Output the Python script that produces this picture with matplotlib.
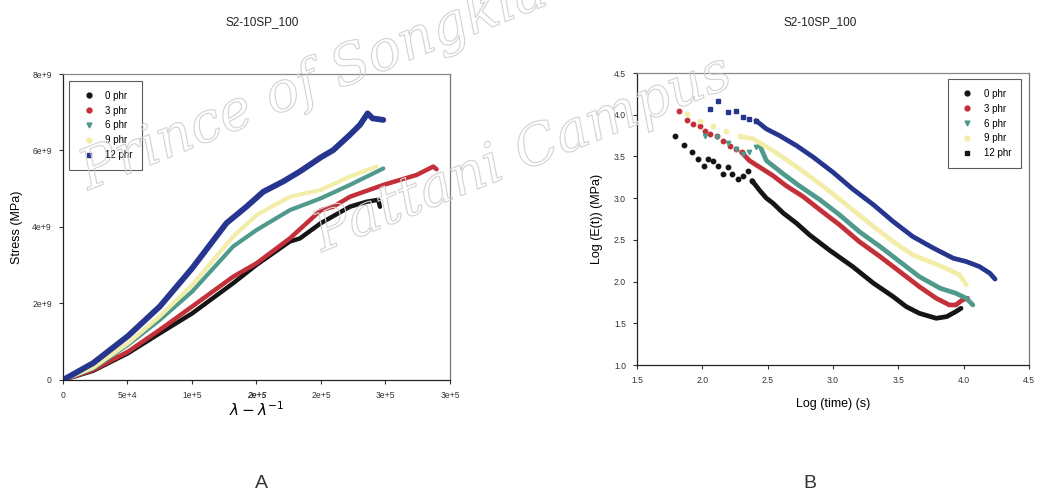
import matplotlib
matplotlib.use("Agg")
import matplotlib.pyplot as plt
from matplotlib.lines import Line2D
import matplotlib.patheffects as pe

plt.rcParams['font.family'] = ['Liberation Sans', 'DejaVu Sans']

labels = ['0 phr', '3 phr', '6 phr', '9 phr', '12 phr']
colors = ['#151515', '#c4303a', '#4f9a8c', '#f2eda8', '#26358e']
markers = ['o', 'o', 'v', 'o', 's']

# --- stress vs lambda - lambda^-1 ---
strain_0 = [0, 23300, 50400, 75000, 100100, 131900, 150000, 175800, 183600, 199900, 222400, 235300, 244400, 245700]
stress_0 = [0, 0.24e9, 0.70e9, 1.22e9, 1.74e9, 2.53e9, 3.01e9, 3.62e9, 3.70e9, 4.10e9, 4.53e9, 4.66e9, 4.71e9, 4.53e9]
strain_3 = [0, 23300, 50400, 75000, 100100, 131900, 150000, 175800, 199900, 209500, 222400, 248300, 274100, 287000, 289600]
stress_3 = [0, 0.26e9, 0.74e9, 1.31e9, 1.92e9, 2.70e9, 3.05e9, 3.70e9, 4.44e9, 4.53e9, 4.79e9, 5.10e9, 5.36e9, 5.58e9, 5.51e9]
strain_6 = [0, 23300, 50400, 75000, 100100, 131900, 150000, 175800, 199900, 222400, 248300]
stress_6 = [0, 0.30e9, 0.92e9, 1.57e9, 2.31e9, 3.49e9, 3.92e9, 4.44e9, 4.75e9, 5.10e9, 5.53e9]
strain_9 = [0, 23300, 50400, 75000, 100100, 131900, 150000, 175800, 199900, 222400, 243100]
stress_9 = [0, 0.32e9, 0.96e9, 1.66e9, 2.48e9, 3.75e9, 4.31e9, 4.79e9, 4.97e9, 5.32e9, 5.58e9]
strain_12 = [0, 23300, 50400, 75000, 100100, 126700, 142200, 155200, 170700, 183600, 199900, 209500, 222400, 230200, 236100, 240000, 248300]
stress_12 = [0, 0.44e9, 1.15e9, 1.92e9, 2.92e9, 4.10e9, 4.53e9, 4.92e9, 5.19e9, 5.45e9, 5.82e9, 6.01e9, 6.41e9, 6.67e9, 6.97e9, 6.84e9, 6.80e9]

strain_ticks = [0, 50000, 100000, 150000, 200000, 250000, 300000]
strain_ticklabels = ['0', '5e+4', '1e+5', '2e+5', '2e+5', '3e+5', '3e+5']
stress_ticks = [0, 2e9, 4e9, 6e9, 8e9]
stress_ticklabels = ['0', '2e+9', '4e+9', '6e+9', '8e+9']

# --- log E(t) vs log time: scattered start, then dense run ---
logt_0_pts = [1.79, 1.86, 1.92, 1.97, 2.01, 2.04, 2.08, 2.12, 2.16, 2.20, 2.23, 2.27, 2.31, 2.35, 2.38]
logE_0_pts = [3.74, 3.64, 3.55, 3.47, 3.39, 3.47, 3.45, 3.39, 3.29, 3.37, 3.29, 3.23, 3.27, 3.33, 3.21]
logt_0 = [2.38, 2.44, 2.49, 2.54, 2.62, 2.72, 2.82, 2.97, 3.15, 3.31, 3.46, 3.56, 3.66, 3.79, 3.87, 3.94, 3.98]
logE_0 = [3.21, 3.09, 3.00, 2.94, 2.82, 2.70, 2.56, 2.38, 2.18, 1.98, 1.82, 1.70, 1.62, 1.56, 1.58, 1.64, 1.68]

logt_3_pts = [1.82, 1.88, 1.93, 1.98, 2.02, 2.06, 2.11, 2.16, 2.21, 2.26, 2.30]
logE_3_pts = [4.04, 3.94, 3.89, 3.87, 3.81, 3.77, 3.75, 3.69, 3.63, 3.59, 3.55]
logt_3 = [2.30, 2.36, 2.44, 2.54, 2.64, 2.77, 2.90, 3.05, 3.20, 3.36, 3.51, 3.66, 3.79, 3.89, 3.94, 3.99, 4.03]
logE_3 = [3.55, 3.45, 3.37, 3.27, 3.15, 3.02, 2.86, 2.68, 2.48, 2.30, 2.12, 1.94, 1.80, 1.72, 1.72, 1.78, 1.80]

logt_6_pts = [2.02, 2.11, 2.20, 2.26, 2.31, 2.36, 2.41, 2.44]
logE_6_pts = [3.74, 3.73, 3.66, 3.59, 3.53, 3.55, 3.61, 3.63]
logt_6 = [2.44, 2.49, 2.62, 2.74, 2.90, 3.05, 3.20, 3.36, 3.51, 3.66, 3.82, 3.94, 4.02, 4.07]
logE_6 = [3.63, 3.45, 3.29, 3.15, 2.98, 2.80, 2.60, 2.42, 2.24, 2.06, 1.92, 1.86, 1.80, 1.72]

logt_9_pts = [1.88, 1.98, 2.08, 2.18, 2.29]
logE_9_pts = [4.01, 3.93, 3.87, 3.81, 3.74]
logt_9 = [2.29, 2.39, 2.54, 2.69, 2.85, 3.00, 3.15, 3.31, 3.46, 3.61, 3.77, 3.89, 3.97, 4.02]
logE_9 = [3.74, 3.71, 3.57, 3.41, 3.23, 3.05, 2.86, 2.66, 2.48, 2.32, 2.22, 2.14, 2.08, 1.96]

logt_12_pts = [2.06, 2.12, 2.20, 2.26, 2.31, 2.36, 2.41]
logE_12_pts = [4.07, 4.17, 4.03, 4.05, 3.97, 3.95, 3.93]
logt_12 = [2.41, 2.49, 2.59, 2.72, 2.85, 3.00, 3.15, 3.31, 3.46, 3.61, 3.77, 3.92, 4.02, 4.12, 4.20, 4.24]
logE_12 = [3.93, 3.83, 3.75, 3.63, 3.49, 3.31, 3.11, 2.92, 2.72, 2.54, 2.40, 2.28, 2.24, 2.18, 2.10, 2.03]

logt_ticks = [1.5, 2.0, 2.5, 3.0, 3.5, 4.0, 4.5]
logE_ticks = [1.0, 1.5, 2.0, 2.5, 3.0, 3.5, 4.0, 4.5]

fig = plt.figure(figsize=(10.39, 4.94), dpi=100)
ax1 = fig.add_axes([0.0606, 0.2308, 0.3725, 0.6194])
ax2 = fig.add_axes([0.6131, 0.2611, 0.3773, 0.5911])

strains = [strain_0, strain_3, strain_6, strain_9, strain_12]
stresses = [stress_0, stress_3, stress_6, stress_9, stress_12]
widths = [3.2, 3.2, 3.0, 3.0, 4.2]
for x, y, c, w in zip(strains, stresses, colors, widths):
    ax1.plot(x, y, color=c, lw=w, solid_capstyle='round', solid_joinstyle='round')

ax1.set_xlim(0, 300000)
ax1.set_ylim(0, 8e9)
ax1.set_xticks(strain_ticks)
ax1.set_xticklabels(strain_ticklabels)
ax1.set_yticks(stress_ticks)
ax1.set_yticklabels(stress_ticklabels)
ax1.get_xticklabels()[3].set_fontweight('bold')
ax1.get_xticklabels()[3].set_fontstyle('italic')
ax1.set_ylabel('Stress (MPa)', fontsize=9, labelpad=7)
ax1.set_xlabel(r'$\lambda - \lambda^{-1}$', fontsize=11, labelpad=0)

pts_t = [logt_0_pts, logt_3_pts, logt_6_pts, logt_9_pts, logt_12_pts]
pts_e = [logE_0_pts, logE_3_pts, logE_6_pts, logE_9_pts, logE_12_pts]
run_t = [logt_0, logt_3, logt_6, logt_9, logt_12]
run_e = [logE_0, logE_3, logE_6, logE_9, logE_12]
for k in range(5):
    ax2.plot(run_t[k], run_e[k], color=colors[k], lw=3.4, solid_capstyle='round')
    ax2.plot(pts_t[k], pts_e[k], ls='none', marker=markers[k], ms=3.2,
             color=colors[k], mec=colors[k])

ax2.set_xlim(1.5, 4.5)
ax2.set_ylim(1.0, 4.5)
ax2.set_xticks(logt_ticks)
ax2.set_yticks(logE_ticks)
ax2.set_xticklabels(['%.1f' % v for v in logt_ticks])
ax2.set_yticklabels(['%.1f' % v for v in logE_ticks])
ax2.set_xlabel('Log (time) (s)', fontsize=9, labelpad=9)
ax2.set_ylabel('Log (E(t)) (MPa)', fontsize=9, labelpad=8)

for ax in (ax1, ax2):
    ax.tick_params(direction='out', length=3, width=0.8, labelsize=6.2, pad=5, colors='#333333')
    ax.spines['left'].set_color('#222222')
    ax.spines['bottom'].set_color('#222222')
    ax.spines['top'].set_color('#888888')
    ax.spines['right'].set_color('#777777')
    for s in ax.spines.values():
        s.set_linewidth(0.9)

handles = [Line2D([], [], ls='none', marker=m, ms=3.5, color=c, mec=c)
           for m, c in zip(markers, colors)]
handles2 = handles[:4] + [Line2D([], [], ls='none', marker='s', ms=3.5, color='#151515')]
leg_kw = dict(fontsize=7, frameon=True, fancybox=False, borderpad=1.0,
              labelspacing=0.5, handlelength=2.0, handletextpad=0.7, borderaxespad=0)
leg1 = ax1.legend(handles, labels, loc='upper left', bbox_to_anchor=(0.016, 0.977), **leg_kw)
leg2 = ax2.legend(handles2, labels, loc='upper left', bbox_to_anchor=(0.793, 0.979), **leg_kw)
for leg in (leg1, leg2):
    leg.get_frame().set_edgecolor('#333333')
    leg.get_frame().set_linewidth(0.8)

fig.text(0.252, 0.955, 'S2-10SP_100', fontsize=8.5, ha='center', va='center', color='#222222')
fig.text(0.789, 0.955, 'S2-10SP_100', fontsize=8.5, ha='center', va='center', color='#222222')
fig.text(0.252, 0.022, 'A', fontsize=14, ha='center', va='center', color='#333333')
fig.text(0.779, 0.022, 'B', fontsize=14, ha='center', va='center', color='#333333')

# outlined watermark across the top
mark = dict(fontsize=40, family='DejaVu Serif', style='italic', color=(1, 1, 1, 0),
            rotation=22, rotation_mode='anchor', ha='left', va='baseline', zorder=10,
            path_effects=[pe.withStroke(linewidth=0.8, foreground='#d2d2d2')])
fig.text(0.085, 0.615, 'Prince of Songkla University', **mark)
fig.text(0.31, 0.49, 'Pattani Campus', **mark)

fig.savefig('out.png', dpi=100)
